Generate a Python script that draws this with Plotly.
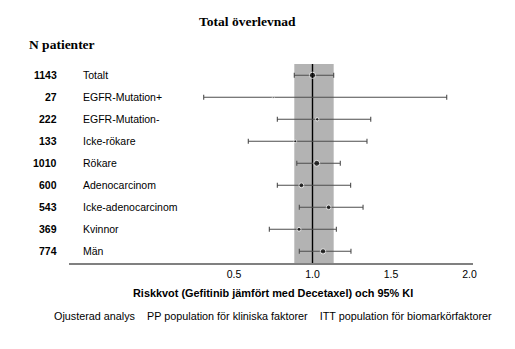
import numpy as np
import plotly.graph_objects as go

# Subgroup forest plot data: overall survival hazard ratios with 95% CI
n_patients = [1143, 27, 222, 133, 1010, 600, 543, 369, 774]
subgroups = ["Totalt", "EGFR-Mutation+", "EGFR-Mutation-", "Icke-rökare", "Rökare",
             "Adenocarcinom", "Icke-adenocarcinom", "Kvinnor", "Män"]
hazard_ratio = [1.00, 0.75, 1.03, 0.89, 1.027, 0.929, 1.103, 0.914, 1.067]
ci_lower = [0.884, 0.307, 0.776, 0.591, 0.90, 0.776, 0.916, 0.725, 0.916]
ci_upper = [1.135, 1.855, 1.371, 1.347, 1.177, 1.243, 1.322, 1.152, 1.245]
tick_values = [0.5, 1.0, 1.5, 2.0]
tick_labels = ["0.5", "1.0", "1.5", "2.0"]

rows = list(range(len(subgroups)))
hr = np.array(hazard_ratio)
err_plus = np.array(ci_upper) - hr
err_minus = hr - np.array(ci_lower)
marker_sizes = 1.2 + 0.15 * np.sqrt(np.array(n_patients))

SANS = "Liberation Sans, Arial, sans-serif"
SERIF = "Liberation Serif, Times New Roman, serif"

fig = go.Figure()
fig.add_trace(go.Scatter(
    x=hazard_ratio, y=rows, mode="markers",
    marker=dict(color="black", size=marker_sizes),
    error_x=dict(type="data", symmetric=False, array=err_plus, arrayminus=err_minus,
                 color="#4d4d4d", thickness=1.1, width=2.5),
    showlegend=False, hoverinfo="skip",
))

# Shaded band for the overall CI and reference line at HR = 1
fig.add_shape(type="rect", xref="x", yref="paper", x0=ci_lower[0], x1=ci_upper[0],
              y0=0, y1=1, fillcolor="#b3b3b3", line_width=0, layer="below")
fig.add_shape(type="line", xref="x", yref="paper", x0=1, x1=1, y0=0, y1=1,
              line=dict(color="black", width=1.4), layer="below")

L, R, T, B = 69, 42, 64, 86
W, H = 515, 349
plot_w = W - L - R
plot_h = H - T - B

def px_x(p):
    return (p - L) / plot_w

def px_y(p):
    return (H - B - p) / plot_h

annotations = []
for i, (n, name) in enumerate(zip(n_patients, subgroups)):
    annotations.append(dict(x=px_x(59), xref="paper", y=i, yref="y", text=f"<b>{n}</b>",
                            xanchor="right", yanchor="middle", showarrow=False,
                            font=dict(family=SANS, size=10.5, color="black")))
    annotations.append(dict(x=px_x(81), xref="paper", y=i, yref="y", text=name,
                            xanchor="left", yanchor="middle", showarrow=False,
                            font=dict(family=SANS, size=10.5, color="black")))

annotations.append(dict(x=px_x(27), xref="paper", y=px_y(45), yref="paper",
                        text="<b>N patienter</b>", xanchor="left", yanchor="middle",
                        showarrow=False, font=dict(family=SERIF, size=13.5, color="black")))
annotations.append(dict(x=px_x(247), xref="paper", y=px_y(21.5), yref="paper",
                        text="<b>Total överlevnad</b>", xanchor="center", yanchor="middle",
                        showarrow=False, font=dict(family=SERIF, size=13.5, color="black")))
annotations.append(dict(x=px_x(273), xref="paper", y=px_y(292.5), yref="paper",
                        text="<b>Riskkvot (Gefitinib jämfört med Decetaxel) och 95% KI</b>",
                        xanchor="center", yanchor="middle", showarrow=False,
                        font=dict(family=SANS, size=10.9, color="black")))
annotations.append(dict(x=px_x(273), xref="paper", y=px_y(315.5), yref="paper",
                        text="Ojusterad analys    PP population för kliniska faktorer    "
                             "ITT population för biomarkörfaktorer",
                        xanchor="center", yanchor="middle", showarrow=False,
                        font=dict(family=SANS, size=10.8, color="black")))

row_px0, row_step = 75.3, 22.0
y_top = (T - row_px0) / row_step
y_bot = (H - B - row_px0) / row_step

unit_px = 157.0
one_px = 312.5
x_lo = 1 + (L - one_px) / unit_px
x_hi = 1 + (W - R - one_px) / unit_px

fig.update_layout(
    width=W, height=H,
    margin=dict(l=L, r=R, t=T, b=B, pad=0),
    paper_bgcolor="white", plot_bgcolor="white",
    xaxis=dict(range=[x_lo, x_hi], tickvals=tick_values, ticktext=tick_labels,
               showgrid=False, zeroline=False, showline=True, linecolor="#808080",
               linewidth=2, ticks="", tickfont=dict(family=SANS, size=10.5, color="black"),
               fixedrange=True),
    yaxis=dict(range=[y_bot, y_top], showgrid=False, zeroline=False, showline=False,
               showticklabels=False, ticks="", fixedrange=True),
    annotations=annotations,
)

fig.write_html("out.html")
